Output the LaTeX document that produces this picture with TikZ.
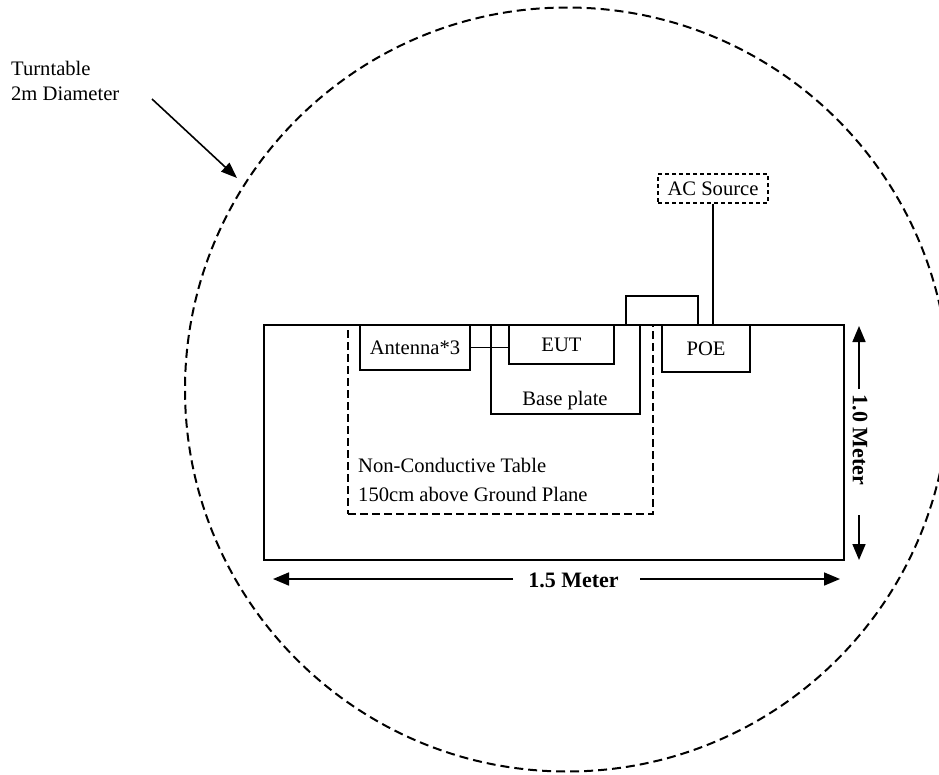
\documentclass[tikz,border=0pt]{standalone}
\usepackage{fontspec}
\setmainfont{Liberation Serif}
\usetikzlibrary{arrows.meta}
\begin{document}
\begin{tikzpicture}[x=1pt,y=-1pt,
  txt/.style={font=\fontsize{20.6}{25}\selectfont, inner sep=0pt},
  dimtxt/.style={font=\bfseries\fontsize{22}{26}\selectfont, inner sep=0pt},
  box/.style={draw, line width=1.5pt, inner sep=0pt, font=\fontsize{20.6}{25}\selectfont},
  acbox/.style={box, dash pattern=on 4pt off 3pt, line width=1.5pt},
  tablebox/.style={draw, line width=2.8pt, inner sep=0pt},
  ncbox/.style={draw, line width=2pt, dash pattern=on 8pt off 4pt, inner sep=0pt},
  turn/.style={draw, line width=2pt, dash pattern=on 9pt off 5pt},
  dimarrow/.style={line width=1.7pt, -{Triangle[length=16pt,width=13pt]}},
  ptr/.style={line width=1.6pt, -{Triangle[length=16pt,width=12pt]}}]
\useasboundingbox (0,0) rectangle (939,774);
\clip (0,0) rectangle (939,774);
\fill[white] (0,0) rectangle (939,774);

% turntable
\draw[turn] (567,389.5) circle[radius=382];
\node[txt, anchor=base west] (tt1) at (11,75) {Turntable};
\node[txt, anchor=base west] (tt2) at (11,100) {2m Diameter};
\coordinate (ttstart) at (152,99);
\coordinate (tttip) at (237,178);
\draw[ptr] (ttstart) -- (tttip);

% non-conductive table (dashed)
\node[ncbox, minimum width=305, minimum height=189] (nc) at (500.5,419.5) {};
\node[txt, anchor=base west] (nc1) at (358,472) {Non-Conductive Table};
\node[txt, anchor=base west] (nc2) at (358,501) {150cm above Ground Plane};

% boxes
\node[box, minimum width=110, minimum height=45] (ant) at (415,347.5) {Antenna*3};
\node[box, minimum width=149, minimum height=89] (base) at (565.5,369.5) {};
\node[txt] (baselbl) at (565,401) {Base plate};
\node[box, minimum width=105, minimum height=39] (eut) at (561.5,344.5) {EUT};
\node[box, minimum width=88, minimum height=47] (poe) at (706,348.5) {POE};
\node[acbox, minimum width=110, minimum height=29] (ac) at (713,188.5) {AC Source};

% ground plane (main table)
\node[tablebox, minimum width=580, minimum height=235] (gp) at (554,442.5) {};

% small box on top
\draw[line width=1.6pt] (626,325) -- (626,296) -- (698,296) -- (698,325);

% connectors
\draw[line width=1.5pt] (ant.east) -- (ant.east -| eut.west);
\draw[line width=1.5pt] (ac.south) -- (ac.south |- gp.north);

% 1.5 Meter dimension
\node[dimtxt] (hlbl) at (573.5,580) {1.5 Meter};
\coordinate (hl1) at (513,579);
\coordinate (hl2) at (273,579);
\coordinate (hr1) at (640,579);
\coordinate (hr2) at (840,579);
\draw[dimarrow] (hl1) -- (hl2);
\draw[dimarrow] (hr1) -- (hr2);

% 1.0 Meter dimension
\node[dimtxt, rotate=-90] (vlbl) at (860,440) {1.0 Meter};
\coordinate (vu1) at (859,389);
\coordinate (vu2) at (859,326);
\coordinate (vd1) at (859,515);
\coordinate (vd2) at (859,560);
\draw[dimarrow] (vu1) -- (vu2);
\draw[dimarrow] (vd1) -- (vd2);
\end{tikzpicture}
\end{document}
